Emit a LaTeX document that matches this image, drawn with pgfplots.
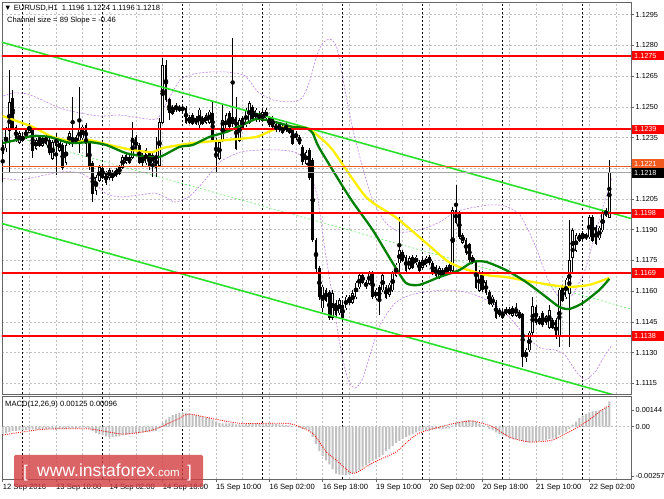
\documentclass[border=0pt]{standalone}
\usepackage{fontspec}
\setmainfont{Liberation Sans}
\usepackage{pgfplots}
\usepackage{pgfplotstable}
\pgfplotsset{compat=1.18}

\definecolor{gridgray}{RGB}{192,192,192}
\definecolor{chanGreen}{RGB}{40,225,40}
\definecolor{maGreen}{RGB}{0,128,0}
\definecolor{maYellow}{RGB}{255,240,0}
\definecolor{bandPurple}{RGB}{190,130,230}
\definecolor{midGreen}{RGB}{110,230,110}
\definecolor{histGray}{RGB}{192,192,192}
\definecolor{lvlRed}{RGB}{255,0,0}
\definecolor{askOrange}{RGB}{240,90,30}
\definecolor{wmRed}{RGB}{210,62,66}

\newcommand{\lbl}{\fontsize{7.3}{8}\selectfont}
\newcommand{\txt}{\fontsize{7.6}{9}\selectfont}

% EURUSD H1 bars: index, open, high, low, close
\pgfplotstableread{
i o h l c
0 1.12314 1.12338 1.12133 1.12274
1 1.12299 1.12402 1.12279 1.12387
2 1.12387 1.12680 1.12177 1.12524
3 1.12543 1.12582 1.12387 1.12402
4 1.12402 1.12412 1.12328 1.12338
5 1.12328 1.12382 1.12318 1.12372
6 1.12358 1.12367 1.12328 1.12338
7 1.12353 1.12397 1.12343 1.12387
8 1.12377 1.12421 1.12372 1.12412
9 1.12387 1.12397 1.12250 1.12289
10 1.12299 1.12348 1.12289 1.12338
11 1.12353 1.12363 1.12304 1.12314
12 1.12314 1.12358 1.12304 1.12348
13 1.12358 1.12367 1.12314 1.12323
14 1.12338 1.12348 1.12265 1.12279
15 1.12250 1.12338 1.12241 1.12328
16 1.12353 1.12372 1.12167 1.12314
17 1.12289 1.12348 1.12279 1.12338
18 1.12314 1.12323 1.12192 1.12206
19 1.12231 1.12323 1.12216 1.12314
20 1.12323 1.12382 1.12314 1.12372
21 1.12353 1.12548 1.12304 1.12323
22 1.12328 1.12363 1.12318 1.12353
23 1.12338 1.12597 1.12274 1.12397
24 1.12348 1.12412 1.12338 1.12402
25 1.12412 1.12421 1.12255 1.12323
26 1.12323 1.12333 1.12192 1.12216
27 1.12226 1.12236 1.12035 1.12079
28 1.12094 1.12167 1.12070 1.12157
29 1.12143 1.12216 1.12133 1.12206
30 1.12201 1.12211 1.12148 1.12157
31 1.12177 1.12187 1.12118 1.12133
32 1.12157 1.12201 1.12143 1.12192
33 1.12182 1.12192 1.12138 1.12153
34 1.12167 1.12201 1.12157 1.12192
35 1.12177 1.12216 1.12167 1.12206
36 1.12206 1.12265 1.12197 1.12255
37 1.12231 1.12274 1.12221 1.12265
38 1.12255 1.12265 1.12221 1.12231
39 1.12255 1.12426 1.12245 1.12348
40 1.12353 1.12363 1.12279 1.12289
41 1.12314 1.12323 1.12221 1.12231
42 1.12265 1.12274 1.12211 1.12226
43 1.12226 1.12299 1.12216 1.12289
44 1.12274 1.12284 1.12192 1.12216
45 1.12226 1.12274 1.12157 1.12265
46 1.12255 1.12353 1.12157 1.12206
47 1.12216 1.12446 1.12206 1.12426
48 1.12426 1.12739 1.12416 1.12705
49 1.12705 1.12729 1.12524 1.12534
50 1.12534 1.12543 1.12436 1.12470
51 1.12470 1.12509 1.12460 1.12499
52 1.12509 1.12519 1.12475 1.12485
53 1.12485 1.12509 1.12475 1.12499
54 1.12499 1.12509 1.12475 1.12485
55 1.12494 1.12504 1.12416 1.12426
56 1.12426 1.12460 1.12416 1.12450
57 1.12460 1.12470 1.12412 1.12421
58 1.12421 1.12455 1.12412 1.12446
59 1.12412 1.12494 1.12387 1.12485
60 1.12446 1.12455 1.12412 1.12421
61 1.12426 1.12470 1.12416 1.12460
62 1.12426 1.12485 1.12416 1.12475
63 1.12470 1.12524 1.12328 1.12338
64 1.12338 1.12348 1.12182 1.12250
65 1.12250 1.12338 1.12241 1.12328
66 1.12338 1.12509 1.12328 1.12436
67 1.12387 1.12470 1.12377 1.12460
68 1.12470 1.12480 1.12392 1.12402
69 1.12421 1.12836 1.12402 1.12450
70 1.12450 1.12548 1.12289 1.12299
71 1.12338 1.12446 1.12328 1.12436
72 1.12446 1.12455 1.12387 1.12397
73 1.12412 1.12494 1.12402 1.12485
74 1.12426 1.12529 1.12416 1.12519
75 1.12499 1.12509 1.12436 1.12446
76 1.12436 1.12494 1.12426 1.12485
77 1.12470 1.12480 1.12426 1.12436
78 1.12436 1.12485 1.12426 1.12475
79 1.12446 1.12494 1.12436 1.12485
80 1.12446 1.12455 1.12402 1.12412
81 1.12446 1.12455 1.12392 1.12402
82 1.12387 1.12421 1.12377 1.12412
83 1.12412 1.12421 1.12377 1.12387
84 1.12377 1.12412 1.12367 1.12402
85 1.12412 1.12421 1.12377 1.12387
86 1.12397 1.12407 1.12367 1.12377
87 1.12387 1.12397 1.12314 1.12323
88 1.12348 1.12382 1.12338 1.12372
89 1.12353 1.12363 1.12314 1.12323
90 1.12304 1.12314 1.12216 1.12231
91 1.12226 1.12289 1.12216 1.12279
92 1.12289 1.12299 1.12143 1.12153
93 1.12241 1.12250 1.11840 1.11850
94 1.11850 1.11860 1.11694 1.11713
95 1.11713 1.11723 1.11557 1.11572
96 1.11518 1.11630 1.11499 1.11621
97 1.11606 1.11616 1.11547 1.11557
98 1.11596 1.11606 1.11459 1.11474
99 1.11474 1.11606 1.11459 1.11591
100 1.11542 1.11557 1.11474 1.11484
101 1.11494 1.11567 1.11484 1.11557
102 1.11533 1.11547 1.11459 1.11474
103 1.11518 1.11582 1.11508 1.11572
104 1.11572 1.11582 1.11533 1.11542
105 1.11547 1.11606 1.11538 1.11591
106 1.11572 1.11650 1.11562 1.11640
107 1.11621 1.11689 1.11611 1.11679
108 1.11679 1.11689 1.11635 1.11645
109 1.11645 1.11655 1.11611 1.11621
110 1.11640 1.11699 1.11630 1.11689
111 1.11689 1.11699 1.11562 1.11572
112 1.11567 1.11616 1.11557 1.11606
113 1.11621 1.11630 1.11484 1.11557
114 1.11606 1.11689 1.11596 1.11679
115 1.11621 1.11630 1.11562 1.11572
116 1.11582 1.11640 1.11572 1.11630
117 1.11606 1.11699 1.11596 1.11689
118 1.11679 1.11738 1.11669 1.11728
119 1.11738 1.11962 1.11689 1.11801
120 1.11791 1.11801 1.11743 1.11752
121 1.11767 1.11777 1.11694 1.11703
122 1.11713 1.11772 1.11703 1.11762
123 1.11767 1.11777 1.11708 1.11718
124 1.11738 1.11777 1.11728 1.11767
125 1.11743 1.11752 1.11694 1.11703
126 1.11718 1.11762 1.11708 1.11752
127 1.11728 1.11772 1.11718 1.11762
128 1.11767 1.11777 1.11728 1.11738
129 1.11738 1.11747 1.11679 1.11689
130 1.11718 1.11728 1.11669 1.11679
131 1.11669 1.11723 1.11660 1.11713
132 1.11703 1.11713 1.11669 1.11679
133 1.11689 1.11728 1.11679 1.11718
134 1.11694 1.11738 1.11684 1.11728
135 1.11703 1.12011 1.11694 1.11996
136 1.11996 1.12118 1.11928 1.11938
137 1.11982 1.11991 1.11855 1.11865
138 1.11840 1.11884 1.11831 1.11874
139 1.11850 1.11860 1.11777 1.11787
140 1.11826 1.11835 1.11743 1.11752
141 1.11767 1.11777 1.11733 1.11743
142 1.11743 1.11752 1.11611 1.11621
143 1.11606 1.11703 1.11596 1.11694
144 1.11689 1.11699 1.11596 1.11606
145 1.11645 1.11655 1.11582 1.11591
146 1.11596 1.11606 1.11533 1.11542
147 1.11533 1.11582 1.11523 1.11572
148 1.11547 1.11557 1.11464 1.11474
149 1.11484 1.11518 1.11474 1.11508
150 1.11499 1.11508 1.11464 1.11474
151 1.11494 1.11523 1.11484 1.11513
152 1.11513 1.11523 1.11484 1.11494
153 1.11484 1.11528 1.11474 1.11518
154 1.11484 1.11542 1.11474 1.11523
155 1.11499 1.11508 1.11464 1.11474
156 1.11484 1.11494 1.11230 1.11279
157 1.11274 1.11323 1.11255 1.11313
158 1.11313 1.11406 1.11303 1.11396
159 1.11396 1.11572 1.11386 1.11523
160 1.11523 1.11533 1.11435 1.11445
161 1.11445 1.11479 1.11435 1.11469
162 1.11494 1.11503 1.11425 1.11435
163 1.11445 1.11484 1.11435 1.11474
164 1.11425 1.11533 1.11416 1.11508
165 1.11459 1.11469 1.11416 1.11425
166 1.11459 1.11469 1.11367 1.11377
167 1.11377 1.11616 1.11328 1.11606
168 1.11621 1.11630 1.11547 1.11557
169 1.11572 1.11664 1.11562 1.11655
170 1.11591 1.11948 1.11328 1.11752
171 1.11767 1.11909 1.11694 1.11899
172 1.11801 1.11884 1.11791 1.11874
173 1.11874 1.11884 1.11840 1.11850
174 1.11860 1.11894 1.11850 1.11884
175 1.11874 1.11884 1.11850 1.11860
176 1.11865 1.11972 1.11855 1.11962
177 1.11962 1.11972 1.11840 1.11850
178 1.11913 1.11923 1.11826 1.11831
179 1.11860 1.11918 1.11850 1.11909
180 1.11899 1.11991 1.11889 1.11982
181 1.11996 1.12006 1.11962 1.11972
182 1.11960 1.12240 1.11960 1.12180
}\ohlc

\begin{document}
\begin{tikzpicture}
\useasboundingbox (0,0) rectangle (664pt,498pt);
\fill[white] (0,0) rectangle (664pt,498pt);

% ---------------- price panel ----------------
\begin{axis}[
  at={(2pt,104pt)}, anchor=south west,
  width=629pt, height=392pt, scale only axis,
  xmin=-0.21, xmax=188.5, ymin=1.11098, ymax=1.13012,
  axis line style={black!60},
  xtick={0,16,...,176}, xticklabels={},
  minor xtick={8,24,...,184},
  extra x ticks={6,30,54,78,102,126,150,174}, extra x tick labels={},
  extra x tick style={major grid style={black, dash pattern=on 2pt off 2pt, line width=0.5pt}},
  xmajorgrids, xminorgrids, ymajorgrids,
  major grid style={gridgray, dash pattern=on 2pt off 2pt, line width=0.5pt},
  minor grid style={gridgray, dash pattern=on 2pt off 2pt, line width=0.5pt},
  xtick style={draw=none}, minor tick length=0pt,
  ytick={1.1115,1.1130,1.1145,1.1160,1.1175,1.1190,1.1205,1.1220,1.1235,1.1250,1.1265,1.1280,1.1295},
  yticklabels={1.1115,1.1130,1.1145,1.1160,1.1175,1.1190,1.1205,,1.1235,1.1250,1.1265,1.1280,1.1295},
  ytick pos=right, yticklabel pos=right,
  tick align=outside, major tick length=3pt,
  ytick style={black!60, line width=0.5pt},
  yticklabel style={font=\lbl, inner xsep=1.5pt},
  scaled y ticks=false,
]
% bollinger style bands
\addplot[bandPurple, dash pattern=on 2pt off 1.5pt, line width=0.6pt, smooth, tension=0.4] coordinates {
(-0.8,1.12548) (3.1,1.12568) (7.3,1.12563) (11.2,1.12538) (17.2,1.12494) (23.2,1.12470) (29.2,1.12455)
(35.2,1.12460) (41.2,1.12446) (46.3,1.12441) (49.3,1.12524) (53.2,1.12631) (57.1,1.12660) (62.2,1.12670)
(67.3,1.12670) (72.7,1.12651) (76.6,1.12573) (81.1,1.12534) (86.2,1.12524) (89.8,1.12543) (92.2,1.12631)
(94,1.12739) (95.8,1.12807) (98.2,1.12831) (100.3,1.12787) (102.7,1.12582) (105.1,1.12387) (107.8,1.12216)
(110.8,1.12055) (114.7,1.11938) (119.2,1.11889) (125.2,1.11899) (131.2,1.11938) (135.7,1.11987) (140.2,1.12006)
(146.2,1.12021) (150.7,1.12016) (155.2,1.11972) (159.7,1.11826) (163.6,1.11655) (167.2,1.11567) (170.8,1.11581)
(174.7,1.11703) (177.7,1.11874) (180.7,1.12045) (182.8,1.12153)};
\addplot[bandPurple, dash pattern=on 2pt off 1.5pt, line width=0.6pt, smooth, tension=0.4] coordinates {
(-0.8,1.12153) (5.2,1.12143) (11.2,1.12162) (17.2,1.12182) (21.7,1.12182) (24.7,1.12167) (27.7,1.12128)
(30.7,1.12079) (35.2,1.12060) (41.2,1.12070) (45.7,1.12079) (48.7,1.12060) (51.7,1.12035) (56.2,1.12065)
(60.7,1.12143) (65.2,1.12231) (71.2,1.12279) (77.2,1.12289) (83.2,1.12289) (87.7,1.12279) (90.7,1.12241)
(92.8,1.12153) (94.6,1.12045) (96.7,1.11801) (99.1,1.11557) (101.2,1.11337) (103.6,1.11166) (105.7,1.11127)
(107.8,1.11166) (110.2,1.11288) (113.2,1.11435) (117.7,1.11542) (122.2,1.11581) (126.7,1.11596) (132.7,1.11606)
(138.7,1.11596) (143.2,1.11572) (147.7,1.11533) (152.2,1.11469) (156.7,1.11386) (161.2,1.11323) (165.7,1.11313)
(168.7,1.11288) (171.7,1.11215) (174.7,1.11166) (177.7,1.11205) (180.7,1.11288) (182.8,1.11337)};
% channel middle
\addplot[midGreen, dash pattern=on 2pt off 2pt, line width=0.6pt] coordinates {(-0.81,1.12375) (188.5,1.11513)};

% candles: wicks, bear bodies, bull bodies
\addplot[only marks, mark=none, forget plot,
  error bars/.cd, y dir=both, y explicit, error mark=none,
  error bar style={draw=black, line width=0.7pt}]
  table[x=i, y expr={(\thisrow{h}+\thisrow{l})/2}, y error expr={(\thisrow{h}-\thisrow{l})/2}] {\ohlc};
\addplot[only marks, mark=none, forget plot,
  restrict expr to domain={\thisrow{c}-\thisrow{o}}{-1:0},
  error bars/.cd, y dir=both, y explicit, error mark=none,
  error bar style={draw=black, line width=2.4pt}]
  table[x=i, y expr={(\thisrow{o}+\thisrow{c})/2}, y error expr={abs(\thisrow{c}-\thisrow{o})/2+0.00002}] {\ohlc};
\addplot[only marks, mark=none, forget plot,
  restrict expr to domain={\thisrow{c}-\thisrow{o}}{0:1},
  error bars/.cd, y dir=both, y explicit, error mark=none,
  error bar style={draw=black, line width=2.6pt}]
  table[x=i, y expr={(\thisrow{o}+\thisrow{c})/2}, y error expr={abs(\thisrow{c}-\thisrow{o})/2+0.00002}] {\ohlc};
\addplot[only marks, mark=none, forget plot,
  restrict expr to domain={\thisrow{c}-\thisrow{o}}{0:1},
  error bars/.cd, y dir=both, y explicit, error mark=none,
  error bar style={draw=white, line width=1.0pt}]
  table[x=i, y expr={(\thisrow{o}+\thisrow{c})/2}, y error expr={max(abs(\thisrow{c}-\thisrow{o})/2-0.00002,0)}] {\ohlc};

% channel borders
\addplot[chanGreen, line width=1.6pt] coordinates {(-0.81,1.12818) (188.5,1.11955)};
\addplot[chanGreen, line width=1.6pt] coordinates {(-0.81,1.11933) (188.5,1.11070)};

% moving averages
\addplot[maYellow, line width=2.3pt, smooth, tension=0.4] coordinates {
(0,1.12455) (9,1.12402) (15,1.12353) (22,1.12328) (26,1.12338) (32,1.12314) (39,1.12289) (45,1.12279)
(48,1.12299) (57,1.12323) (67,1.12338) (76,1.12353) (81,1.12387) (85,1.12402) (89,1.12402) (92,1.12392)
(95,1.12353) (99,1.12289) (109,1.12060) (118,1.11960) (126,1.11850) (133,1.11752) (137,1.11718)
(145,1.11679) (151,1.11669) (159,1.11645) (169,1.11621) (176,1.11631) (182,1.11665)};
\addplot[maGreen, line width=2.3pt, smooth, tension=0.4] coordinates {
(0,1.12323) (4,1.12338) (9,1.12358) (14,1.12353) (19,1.12328) (22,1.12323) (26,1.12328) (31,1.12314)
(37,1.12274) (42,1.12260) (47,1.12255) (53,1.12304) (57,1.12314) (62,1.12353) (67,1.12377) (72,1.12412)
(76,1.12441) (79,1.12436) (83,1.12421) (87,1.12402) (91,1.12397) (93,1.12372) (95,1.12299) (104,1.12060)
(111,1.11899) (117,1.11738) (121,1.11640) (125,1.11631) (131,1.11669) (137,1.11703) (141,1.11743)
(145,1.11743) (151,1.11703) (157,1.11645) (163,1.11572) (167,1.11523) (170,1.11513) (174,1.11542)
(179,1.11606) (182,1.11660)};

% levels
\addplot[askOrange, line width=0.6pt] coordinates {(-1,1.1221) (190,1.1221)};
\addplot[gray!70, line width=0.6pt] coordinates {(-1,1.1218) (190,1.1218)};
\addplot[lvlRed, line width=1.9pt] coordinates {(-1,1.1275) (190,1.1275)};
\addplot[lvlRed, line width=1.9pt] coordinates {(-1,1.1239) (190,1.1239)};
\addplot[lvlRed, line width=1.9pt] coordinates {(-1,1.1198) (190,1.1198)};
\addplot[lvlRed, line width=1.9pt] coordinates {(-1,1.1169) (190,1.1169)};
\addplot[lvlRed, line width=1.9pt] coordinates {(-1,1.1138) (190,1.1138)};

\coordinate (b1275) at (axis cs:188.5,1.1275);
\coordinate (b1239) at (axis cs:188.5,1.1239);
\coordinate (b1198) at (axis cs:188.5,1.1198);
\coordinate (b1169) at (axis cs:188.5,1.1169);
\coordinate (b1138) at (axis cs:188.5,1.1138);
\coordinate (b1221) at (axis cs:188.5,1.1221);
\coordinate (b1218) at (axis cs:188.5,1.1218);
\end{axis}

% ---------------- MACD panel ----------------
\begin{axis}[
  at={(2pt,19pt)}, anchor=south west,
  width=629pt, height=83pt, scale only axis,
  xmin=-0.21, xmax=188.5, ymin=-0.00257, ymax=0.00151,
  axis line style={black!60},
  xtick={0,16,...,176},
  xticklabels={12 Sep 2016,13 Sep 10:00,14 Sep 02:00,14 Sep 18:00,15 Sep 10:00,16 Sep 02:00,16 Sep 18:00,19 Sep 10:00,20 Sep 02:00,20 Sep 18:00,21 Sep 10:00,22 Sep 02:00},
  minor xtick={8,24,...,184},
  extra x ticks={6,30,54,78,102,126,150,174}, extra x tick labels={},
  extra x tick style={major tick length=0pt, major grid style={black, dash pattern=on 2pt off 2pt, line width=0.5pt}},
  xmajorgrids, xminorgrids,
  major grid style={gridgray, dash pattern=on 2pt off 2pt, line width=0.5pt},
  minor grid style={gridgray, dash pattern=on 2pt off 2pt, line width=0.5pt},
  xtick pos=bottom, ytick pos=right, yticklabel pos=right,
  tick align=outside, major tick length=3pt, minor tick length=0pt,
  tick style={black!60, line width=0.5pt},
  xticklabel style={font=\txt, anchor=north west, inner xsep=0pt, inner ysep=1.5pt},
  ytick={0.00081,0,-0.00242}, yticklabels={0.00144,0.00,-0.00257},
  yticklabel style={font=\lbl, inner xsep=1.5pt},
  scaled y ticks=false,
]
\addplot[gridgray, dash pattern=on 2pt off 2pt, line width=0.5pt, forget plot] coordinates {(-1,0) (190,0)};
\addplot[ybar, bar width=2pt, fill=histGray, draw=none] coordinates {
(0,-0.00035) (1,-0.00033) (2,-0.00025) (3,-0.00022) (4,-0.00020) (5,-0.00018) (6,-0.00017) (7,-0.00016) (8,-0.00014) (9,-0.00013)
(10,-0.00013) (11,-0.00012) (12,-0.00011) (13,-0.00010) (14,-0.00010) (15,-0.00011) (16,-0.00010) (17,-0.00010) (18,-0.00012) (19,-0.00011)
(20,-0.00009) (21,-0.00008) (22,-0.00008) (23,-0.00006) (24,-0.00005) (25,-0.00006) (26,-0.00010) (27,-0.00022) (28,-0.00032) (29,-0.00038)
(30,-0.00043) (31,-0.00047) (32,-0.00050) (33,-0.00050) (34,-0.00049) (35,-0.00047) (36,-0.00043) (37,-0.00040) (38,-0.00038) (39,-0.00032)
(40,-0.00030) (41,-0.00030) (42,-0.00029) (43,-0.00026) (44,-0.00026) (45,-0.00023) (46,-0.00022) (47,-0.00008) (48,0.00018) (49,0.00035)
(50,0.00048) (51,0.00057) (52,0.00063) (53,0.00068) (54,0.00070) (55,0.00068) (56,0.00065) (57,0.00060) (58,0.00056) (59,0.00052)
(60,0.00048) (61,0.00045) (62,0.00043) (63,0.00035) (64,0.00025) (65,0.00018) (66,0.00016) (67,0.00017) (68,0.00016) (69,0.00016)
(70,0.00012) (71,0.00012) (72,0.00012) (73,0.00013) (74,0.00015) (75,0.00016) (76,0.00016) (77,0.00016) (78,0.00016) (79,0.00017)
(80,0.00016) (81,0.00015) (82,0.00013) (83,0.00011) (84,0.00010) (85,0.00008) (86,0.00006) (87,0.00002) (88,-0.00001) (89,-0.00004)
(90,-0.00010) (91,-0.00012) (92,-0.00020) (93,-0.00050) (94,-0.00085) (95,-0.00120) (96,-0.00145) (97,-0.00165) (98,-0.00185) (99,-0.00210)
(100,-0.00230) (101,-0.00235) (102,-0.00237) (103,-0.00237) (104,-0.00236) (105,-0.00230) (106,-0.00225) (107,-0.00215) (108,-0.00200) (109,-0.00190)
(110,-0.00180) (111,-0.00170) (112,-0.00160) (113,-0.00150) (114,-0.00140) (115,-0.00120) (116,-0.00110) (117,-0.00095) (118,-0.00080) (119,-0.00070)
(120,-0.00060) (121,-0.00050) (122,-0.00042) (123,-0.00035) (124,-0.00028) (125,-0.00022) (126,-0.00020) (127,-0.00018) (128,-0.00016) (129,-0.00014)
(130,-0.00012) (131,-0.00010) (132,-0.00010) (133,-0.00009) (134,-0.00008) (135,0.00005) (136,0.00018) (137,0.00025) (138,0.00028) (139,0.00030)
(140,0.00032) (141,0.00030) (142,0.00022) (143,0.00015) (144,0.00008) (145,0.00000) (146,-0.00010) (147,-0.00018) (148,-0.00028) (149,-0.00035)
(150,-0.00042) (151,-0.00048) (152,-0.00052) (153,-0.00056) (154,-0.00060) (155,-0.00063) (156,-0.00070) (157,-0.00075) (158,-0.00078) (159,-0.00076)
(160,-0.00072) (161,-0.00070) (162,-0.00068) (163,-0.00065) (164,-0.00060) (165,-0.00058) (166,-0.00055) (167,-0.00040) (168,-0.00032) (169,-0.00024)
(170,-0.00010) (171,0.00010) (172,0.00025) (173,0.00042) (174,0.00055) (175,0.00063) (176,0.00070) (177,0.00075) (178,0.00078) (179,0.00080)
(180,0.00085) (181,0.00095) (182,0.00125)};
\addplot[red, dash pattern=on 1pt off 1.2pt, line width=0.8pt, smooth, tension=0.4] coordinates {
(0,-0.00041) (12,-0.00013) (26,-0.00011) (36,-0.00036) (45,-0.00016) (53,0.00041) (56,0.00062) (65,0.00033)
(72,0.00016) (86,0.00015) (93,-0.00033) (97,-0.00123) (100,-0.00163) (104,-0.00222) (106,-0.00227) (111,-0.00178)
(118,-0.00124) (122,-0.00065) (125,-0.00031) (130,-0.00006) (136,0.00018) (141,0.00028) (147,0.0) (152,-0.00051)
(158,-0.00075) (165,-0.00065) (171,-0.00016) (175,0.00023) (181,0.00097) (182,0.00096)};
\end{axis}

% price boxes on the scale
\tikzset{pbox/.style={anchor=west, minimum height=9.5pt, text width=27pt, inner xsep=2.5pt, inner ysep=0pt, font=\lbl, text=white, align=left, xshift=0.5pt}}
\node[pbox, fill=lvlRed] at (b1275) {1.1275};
\node[pbox, fill=lvlRed] at (b1239) {1.1239};
\node[pbox, fill=lvlRed] at (b1198) {1.1198};
\node[pbox, fill=lvlRed] at (b1169) {1.1169};
\node[pbox, fill=lvlRed] at (b1138) {1.1138};
\node[pbox, fill=askOrange, yshift=2.8pt] at (b1221) {1.1221};
\node[pbox, fill=black, yshift=-0.5pt] at (b1218) {1.1218};

% chart captions
\node[anchor=base west, inner sep=0pt, font=\txt] at (4pt,487pt) {▼ EURUSD,H1\ \ 1.1196 1.1224 1.1196 1.1218};
\node[anchor=base west, inner sep=0pt, font=\txt] at (7pt,475pt) {Channel size = 89 Slope = -0.46};
\node[anchor=base west, inner sep=0pt, font=\txt] at (5pt,91pt) {MACD(12,26,9) 0.00125 0.00096};

% watermark
\fill[wmRed, opacity=0.8, rounded corners=1.5pt] (14pt,11pt) rectangle (203pt,43pt);
\node[anchor=base west, inner sep=0pt, text=white, font=\fontsize{17}{18}\selectfont] at (23pt,20pt) {[};
\node[anchor=base west, inner sep=0pt, text=white, font=\fontsize{17.5}{18}\selectfont] at (37pt,21pt) {www.instaforex{\fontsize{11.5}{12}\selectfont .com}};
\node[anchor=base west, inner sep=0pt, text=white, font=\fontsize{17}{18}\selectfont] at (187pt,20pt) {]};
\end{tikzpicture}
\end{document}
